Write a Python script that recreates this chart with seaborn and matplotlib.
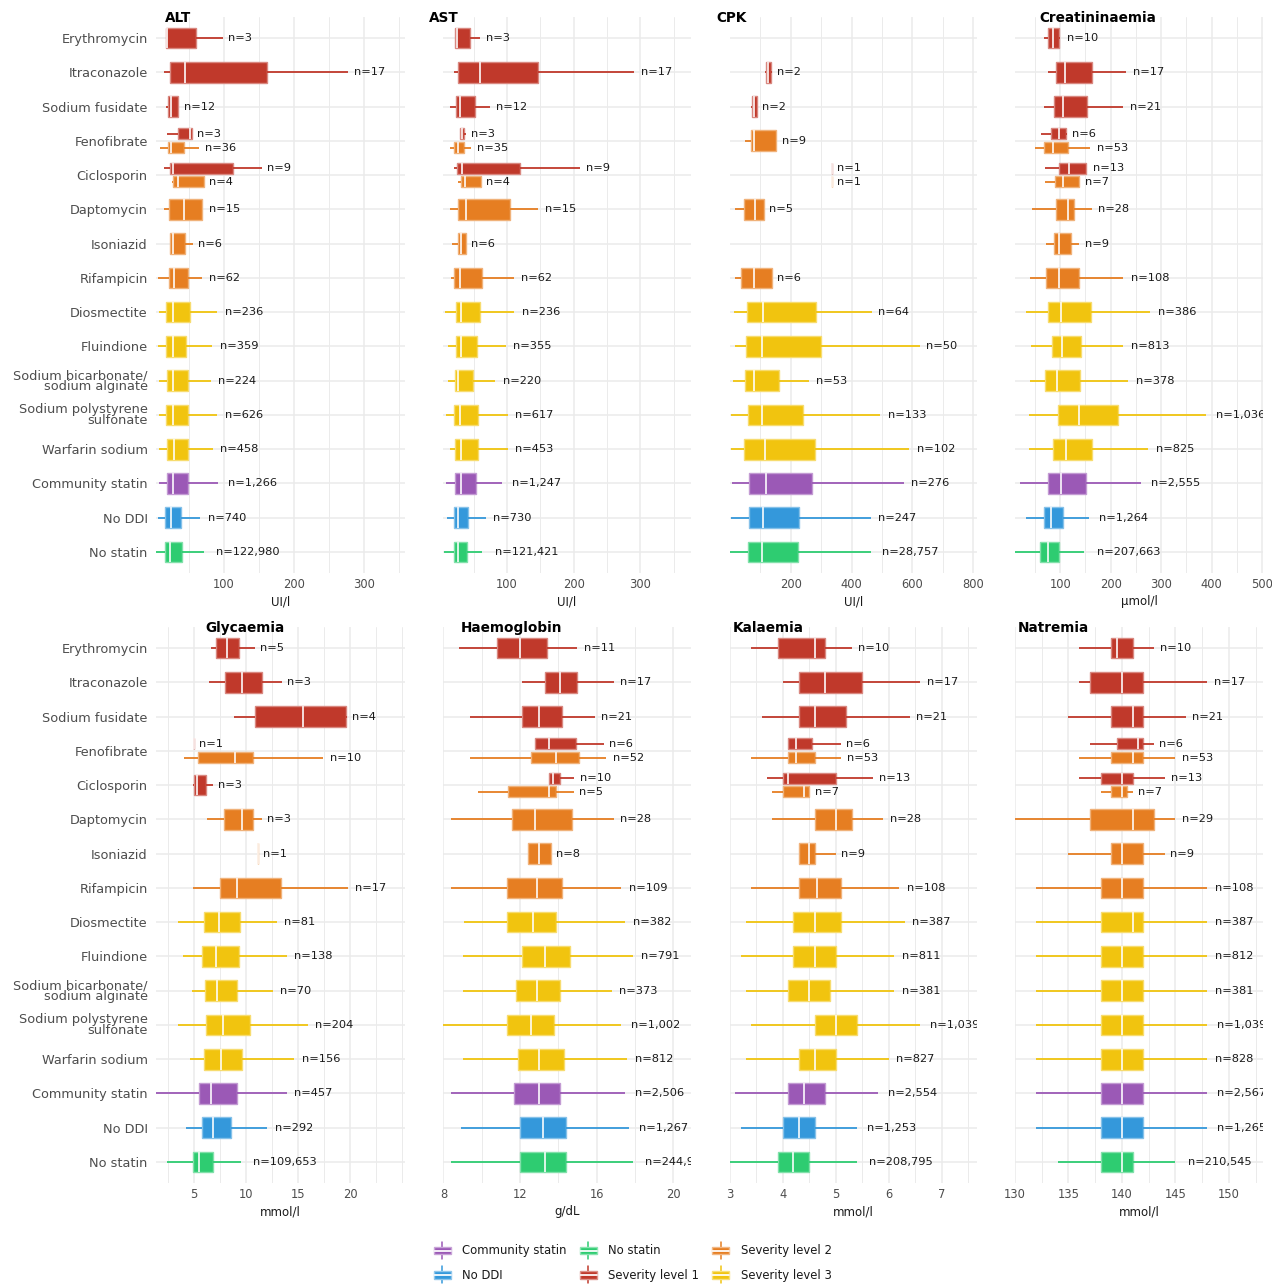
import matplotlib
matplotlib.use("Agg")
import matplotlib.pyplot as plt
from matplotlib.colors import to_rgb
from matplotlib.patches import Patch, Rectangle
from matplotlib.lines import Line2D
from matplotlib.legend_handler import HandlerBase
import numpy as np
import pandas as pd
import seaborn as sns

# ---------------------------------------------------------------- categories
DRUGS = ["Erythromycin", "Itraconazole", "Sodium fusidate", "Fenofibrate",
         "Ciclosporin", "Daptomycin", "Isoniazid", "Rifampicin", "Diosmectite",
         "Fluindione", "Sodium bicarbonate/sodium alginate",
         "Sodium polystyrene sulfonate", "Warfarin sodium", "Community statin",
         "No DDI", "No statin"]
DRUG_LABELS = ["Erythromycin", "Itraconazole", "Sodium fusidate", "Fenofibrate",
               "Ciclosporin", "Daptomycin", "Isoniazid", "Rifampicin",
               "Diosmectite", "Fluindione", "Sodium bicarbonate/\nsodium alginate",
               "Sodium polystyrene\nsulfonate", "Warfarin sodium",
               "Community statin", "No DDI", "No statin"]

GROUPS = ["Community statin", "No DDI", "No statin",
          "Severity level 1", "Severity level 2", "Severity level 3"]
GROUP_COLORS = ["#9B59B6", "#3498DB", "#2ECC71", "#C0392B", "#E67E22", "#F1C40F"]
CS, ND, NS, S1, S2, S3 = GROUPS

# box layout shared by most panels (Fenofibrate / Ciclosporin split by severity)
FULL_DRUG = ["Erythromycin", "Itraconazole", "Sodium fusidate", "Fenofibrate",
             "Fenofibrate", "Ciclosporin", "Ciclosporin", "Daptomycin",
             "Isoniazid", "Rifampicin", "Diosmectite", "Fluindione",
             "Sodium bicarbonate/sodium alginate", "Sodium polystyrene sulfonate",
             "Warfarin sodium", "Community statin", "No DDI", "No statin"]
FULL_GROUP = [S1, S1, S1, S1, S2, S1, S2, S2, S2, S2, S3, S3, S3, S3, S3, CS, ND, NS]

CPK_DRUG = ["Itraconazole", "Sodium fusidate", "Fenofibrate", "Ciclosporin",
            "Ciclosporin", "Daptomycin", "Rifampicin"] + FULL_DRUG[10:]
CPK_GROUP = [S1, S1, S2, S1, S2, S2, S2] + FULL_GROUP[10:]

GLY_DRUG = ["Erythromycin", "Itraconazole", "Sodium fusidate", "Fenofibrate",
            "Fenofibrate", "Ciclosporin", "Daptomycin", "Isoniazid",
            "Rifampicin"] + FULL_DRUG[10:]
GLY_GROUP = [S1, S1, S1, S1, S2, S1, S2, S2, S2] + FULL_GROUP[10:]

# ------------------------------------------- five-number summaries (min, Q1, median, Q3, max)
ALT_STATS = [(17, 17, 19, 60, 99), (14, 23, 44, 161, 277), (17, 20, 24, 34, 34),
             (19, 34, 51, 54, 54), (9, 20, 24, 43, 64), (14, 23, 27, 113, 154),
             (26, 27, 34, 71, 71), (14, 21, 43, 69, 69), (23, 23, 27, 44, 56),
             (6, 21, 29, 49, 69), (7, 17, 27, 51, 90), (6, 17, 27, 46, 83),
             (7, 19, 27, 49, 81), (7, 17, 27, 49, 90), (7, 19, 29, 49, 84),
             (7, 19, 27, 49, 91), (6, 16, 24, 39, 66), (3, 16, 23, 40, 71)]
ALT_N = [3, 17, 12, 3, 36, 9, 4, 15, 6, 62, 236, 359, 224, 626, 458, 1266, 740, 122980]

AST_STATS = [(22, 22, 25, 44, 60), (20, 26, 60, 146, 291), (15, 23, 29, 52, 74),
             (30, 30, 33, 36, 38), (15, 21, 27, 35, 46), (21, 25, 32, 120, 210),
             (27, 31, 37, 61, 61), (15, 26, 38, 104, 147), (18, 26, 31, 38, 38),
             (16, 21, 30, 63, 111), (7, 23, 31, 60, 111), (12, 23, 31, 55, 98),
             (12, 22, 27, 49, 82), (8, 21, 30, 56, 101), (14, 22, 31, 56, 101),
             (8, 22, 31, 53, 93), (10, 20, 27, 42, 68), (5, 20, 26, 40, 63)]
AST_N = [3, 17, 12, 3, 35, 9, 4, 15, 6, 62, 236, 355, 220, 617, 453, 1247, 730, 121421]

CPK_STATS = [(116, 120, 127, 136, 139), (70, 73, 80, 88, 90), (49, 70, 80, 153, 153),
             (336, 336, 336, 336, 336), (336, 336, 336, 336, 336),
             (18, 46, 83, 112, 112), (18, 36, 79, 137, 137),
             (14, 56, 108, 282, 466), (16, 53, 106, 299, 625), (9, 49, 78, 162, 261),
             (5, 59, 107, 242, 494), (5, 48, 116, 279, 590), (7, 62, 120, 270, 572),
             (3, 63, 109, 228, 463), (1, 60, 107, 224, 463)]
CPK_N = [2, 2, 9, 1, 1, 5, 6, 64, 50, 53, 133, 102, 276, 247, 28757]

CREAT_STATS = [(67, 75, 85, 97, 100), (75, 92, 109, 164, 231), (68, 88, 105, 153, 225),
               (62, 81, 97, 112, 113), (51, 68, 86, 115, 160), (70, 98, 118, 152, 152),
               (70, 89, 105, 138, 138), (44, 91, 116, 128, 163), (72, 88, 98, 122, 138),
               (40, 72, 97, 137, 225), (32, 75, 101, 161, 278), (42, 84, 103, 142, 225),
               (40, 70, 94, 140, 235), (39, 95, 138, 215, 390), (39, 85, 112, 163, 275),
               (20, 75, 101, 152, 261), (32, 67, 82, 105, 158), (11, 60, 75, 98, 148)]
CREAT_N = [10, 17, 21, 6, 53, 13, 7, 28, 9, 108, 386, 813, 378, 1036, 825, 2555,
           1264, 207663]

GLY_STATS = [(6.6, 7.1, 8.1, 9.3, 10.8), (6.4, 8.0, 9.6, 11.5, 13.4),
             (8.8, 10.8, 15.5, 19.6, 19.7), (5.0, 5.0, 5.0, 5.0, 5.0),
             (4.0, 5.4, 8.9, 10.6, 17.4), (4.9, 5.0, 5.3, 6.1, 6.8),
             (6.2, 7.9, 9.6, 10.6, 11.5), (11.1, 11.1, 11.1, 11.1, 11.1),
             (4.9, 7.5, 9.1, 13.3, 19.8), (3.4, 5.9, 7.4, 9.4, 13.0),
             (3.9, 5.7, 7.1, 9.3, 13.9), (4.8, 6.0, 7.2, 9.1, 12.6),
             (3.4, 6.1, 7.8, 10.4, 15.9), (4.6, 5.9, 7.6, 9.6, 14.6),
             (1.2, 5.5, 6.6, 9.1, 13.9), (4.2, 5.7, 6.8, 8.5, 12.0),
             (2.4, 4.9, 5.5, 6.8, 9.5)]
GLY_N = [5, 3, 4, 1, 10, 3, 3, 1, 17, 81, 138, 70, 204, 156, 457, 292, 109653]

HB_STATS = [(8.8, 10.8, 12.0, 13.4, 15.0), (12.1, 13.3, 14.1, 15.0, 16.9),
            (9.4, 12.1, 13.0, 14.2, 15.9), (12.8, 12.8, 13.5, 14.9, 16.4),
            (9.4, 12.6, 13.9, 15.1, 16.5), (13.5, 13.5, 13.7, 14.1, 14.8),
            (9.8, 11.4, 13.5, 13.9, 14.8), (8.4, 11.6, 12.8, 14.7, 16.9),
            (12.4, 12.4, 13.0, 13.6, 13.6), (8.4, 11.3, 12.9, 14.2, 17.3),
            (9.1, 11.3, 12.7, 13.9, 17.5), (9.0, 12.1, 13.3, 14.6, 17.9),
            (9.0, 11.8, 12.9, 14.1, 16.8), (8.0, 11.3, 12.6, 13.8, 17.3),
            (9.0, 11.9, 13.0, 14.3, 17.6), (8.4, 11.7, 13.0, 14.1, 17.5),
            (8.9, 12.0, 13.2, 14.4, 17.7), (8.4, 12.0, 13.3, 14.4, 17.9)]
HB_N = [11, 17, 21, 6, 52, 10, 5, 28, 8, 109, 382, 791, 373, 1002, 812, 2506, 1267,
        244931]

K_STATS = [(3.4, 3.9, 4.6, 4.8, 5.3), (4.0, 4.3, 4.8, 5.5, 6.6),
           (3.6, 4.3, 4.6, 5.2, 6.4), (4.1, 4.1, 4.25, 4.55, 5.1),
           (3.4, 4.1, 4.25, 4.6, 5.1), (3.7, 4.0, 4.1, 5.0, 5.7),
           (3.8, 4.0, 4.4, 4.5, 4.5), (3.8, 4.6, 5.0, 5.3, 5.9),
           (4.3, 4.3, 4.5, 4.6, 5.0), (3.4, 4.3, 4.65, 5.1, 6.2),
           (3.3, 4.2, 4.6, 5.1, 6.3), (3.2, 4.2, 4.6, 5.0, 6.1),
           (3.3, 4.1, 4.5, 4.9, 6.1), (3.4, 4.6, 5.0, 5.4, 6.6),
           (3.3, 4.3, 4.6, 5.0, 6.0), (3.1, 4.1, 4.4, 4.8, 5.8),
           (3.2, 4.0, 4.3, 4.6, 5.4), (3.0, 3.9, 4.2, 4.5, 5.4)]
K_N = [10, 17, 21, 6, 53, 13, 7, 28, 9, 108, 387, 811, 381, 1039, 827, 2554, 1253,
       208795]

NA_STATS = [(136, 139, 139.5, 141, 143), (136, 137, 140, 142, 148),
            (135, 139, 141, 142, 146), (137, 139.5, 141.5, 142, 143),
            (136, 139, 141, 142, 145), (136, 138, 140, 141, 144),
            (138, 139, 140, 140.5, 141), (130, 137, 141, 143, 145),
            (135, 139, 140, 142, 144), (132, 138, 140, 142, 148),
            (132, 138, 141, 142, 148), (132, 138, 140, 142, 148),
            (132, 138, 140, 142, 148), (132, 138, 140, 142, 148),
            (132, 138, 140, 142, 148), (132, 138, 140, 142, 148),
            (132, 138, 140, 142, 148), (134, 138, 140, 141, 145)]
NA_N = [10, 17, 21, 6, 53, 13, 7, 29, 9, 108, 387, 812, 381, 1039, 828, 2567, 1265,
        210545]

# ------------------------------------------------------------------ styling
PALETTE = dict(zip(GROUPS, GROUP_COLORS))
GRID = "#EBEBEB"
TXT = "#4D4D4D"
DARK = "#1A1A1A"
W, H = 1272, 1286


def tint(color, f):
    r, g, b = to_rgb(color)
    return (r + (1 - r) * f, g + (1 - g) * f, b + (1 - b) * f)


def draw_panel(ax, drugs, groups, stats, ns):
    rows = [(d, g, v) for d, g, s in zip(drugs, groups, stats) for v in s]
    df = pd.DataFrame(rows, columns=["drug", "group", "value"])
    counts = pd.Series(drugs).value_counts()
    split = set(counts[counts > 1].index)

    for g in GROUPS:
        col = PALETTE[g]
        for paired in (False, True):
            sub = df[(df["group"] == g) & (df["drug"].isin(split) == paired)]
            if sub.empty:
                continue
            if paired:
                kw = dict(dodge=True, width=0.8, gap=0.2, hue_order=[S1, S2])
            else:
                kw = dict(dodge=False, width=0.6, hue_order=[g])
            sns.boxplot(data=sub, x="value", y="drug", hue="group", order=DRUGS,
                        palette=PALETTE, saturation=1, whis=(0, 100),
                        showcaps=False, fliersize=0, linewidth=1.3, legend=False,
                        ax=ax,
                        boxprops=dict(edgecolor=tint(col, 0.4), linewidth=1.0),
                        whiskerprops=dict(color=col, linewidth=1.3),
                        medianprops=dict(color=tint(col, 0.9), linewidth=1.3),
                        **kw)

    # sample-size labels at the end of the upper whisker
    for d, g, s, n in zip(drugs, groups, stats, ns):
        y = DRUGS.index(d)
        if d in split:
            y += -0.2 if g == S1 else 0.2
        lab = f"n={n:,}"
        ax.annotate(lab, xy=(s[4], y), xytext=(1.2 + 0.85 * len(lab), 0),
                    textcoords="offset points", ha="left", va="center",
                    fontsize=8.2, color=DARK, clip_on=True, annotation_clip=False)


PANELS = [
    ("ALT", "UI/l", FULL_DRUG, FULL_GROUP, ALT_STATS, ALT_N, (2.9, 358.6), [100, 200, 300], 50),
    ("AST", "UI/l", FULL_DRUG, FULL_GROUP, AST_STATS, AST_N, (4.0, 375.9), [100, 200, 300], 50),
    ("CPK", "UI/l", CPK_DRUG, CPK_GROUP, CPK_STATS, CPK_N, (0.5, 812.2), [200, 400, 600, 800], 100),
    ("Creatininaemia", "µmol/l", FULL_DRUG, FULL_GROUP, CREAT_STATS, CREAT_N, (10.4, 502), [100, 200, 300, 400, 500], 50),
    ("Glycaemia", "mmol/l", GLY_DRUG, GLY_GROUP, GLY_STATS, GLY_N, (1.32, 25.26), [5, 10, 15, 20], 2.5),
    ("Haemoglobin", "g/dL", FULL_DRUG, FULL_GROUP, HB_STATS, HB_N, (7.98, 20.93), [8, 12, 16, 20], 2),
    ("Kalaemia", "mmol/l", FULL_DRUG, FULL_GROUP, K_STATS, K_N, (3.0, 7.67), [3, 4, 5, 6, 7], 0.5),
    ("Natremia", "mmol/l", FULL_DRUG, FULL_GROUP, NA_STATS, NA_N, (130.0, 153.2), [130, 135, 140, 145, 150], 2.5),
]

# panel frames in pixels: left, right, top, bottom
COL_X = [(156, 405), (443, 691), (730, 977), (1015, 1263)]
ROW_Y = [(17.4, 572.6), (627.4, 1182.6)]
TITLE_POS = [(165, 17.5), (429, 17.5), (716, 17.5), (1039, 17.5),
             (205, 628), (461, 628), (733, 628), (1018, 628)]

sns.set_theme(style="white")
plt.rcParams["font.family"] = ["DejaVu Sans"]

fig = plt.figure(figsize=(W / 100, H / 100), dpi=100)

for i, (title, unit, drugs, groups, stats, ns, xlim, major, minor) in enumerate(PANELS):
    r, c = divmod(i, 4)
    x0, x1 = COL_X[c]
    yt, yb = ROW_Y[r]
    ax = fig.add_axes([x0 / W, 1 - yb / H, (x1 - x0) / W, (yb - yt) / H])
    ax.set_axisbelow(True)
    draw_panel(ax, drugs, groups, stats, ns)

    ax.set_xlim(*xlim)
    ax.set_ylim(15.6, -0.6)
    ax.set_xticks(major)
    ax.set_xticks(np.arange(np.ceil(xlim[0] / minor) * minor, xlim[1], minor), minor=True)
    ax.set_yticks(range(len(DRUGS)))
    ax.set_yticklabels(DRUG_LABELS if c == 0 else [])
    ax.grid(True, which="major", color=GRID, linewidth=1.1)
    ax.grid(True, which="minor", axis="x", color=GRID, linewidth=0.7)
    for sp in ax.spines.values():
        sp.set_visible(False)
    ax.tick_params(axis="both", which="both", length=0)
    ax.tick_params(axis="x", labelsize=8.3, labelcolor=TXT, pad=4)
    ax.tick_params(axis="y", labelsize=9.3, labelcolor=TXT, pad=6)
    for t in ax.get_yticklabels():
        t.set_linespacing(0.78)
    ax.set_xlabel(unit, fontsize=8.5, color=DARK, labelpad=3)
    ax.set_ylabel("")
    tx, ty = TITLE_POS[i]
    fig.text(tx / W, 1 - ty / H, title, ha="left", va="center",
             fontsize=9.8, fontweight="bold", color="black")


class BoxKey(HandlerBase):
    def create_artists(self, legend, orig_handle, xdescent, ydescent,
                       width, height, fontsize, trans):
        col = orig_handle.get_facecolor()
        x0, y0 = -xdescent, -ydescent
        bw, bh = width * 0.9, height * 0.62
        bx, by = x0 + (width - bw) / 2, y0 + (height - bh) / 2
        cx = x0 + width / 2
        wb = Line2D([cx, cx], [y0 - height * 0.18, by], color=col, lw=1.1, transform=trans)
        wt = Line2D([cx, cx], [by + bh, y0 + height * 1.18], color=col, lw=1.1, transform=trans)
        box = Rectangle((bx, by), bw, bh, facecolor=col, edgecolor=tint(col, 0.45),
                        lw=1.0, transform=trans)
        med = Line2D([bx, bx + bw], [y0 + height / 2] * 2, color=tint(col, 0.9),
                     lw=1.4, transform=trans)
        return [wb, wt, box, med]


handles = [Patch(facecolor=PALETTE[g], label=g) for g in GROUPS]
fig.legend(handles=handles, labels=GROUPS, loc="center", ncol=3,
           bbox_to_anchor=(0.497, 1 - 1263 / H), frameon=False, fontsize=8.4,
           handler_map={Patch: BoxKey()}, handlelength=1.65, handleheight=1.25,
           handletextpad=0.9, columnspacing=1.0, labelspacing=0.95,
           labelcolor=DARK)

fig.savefig("out.png", dpi=100)
